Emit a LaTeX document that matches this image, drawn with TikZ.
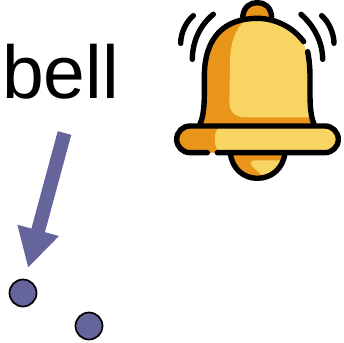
\documentclass[tikz,border=0pt]{standalone}
\usepackage{fontspec}
\setmainfont{Liberation Sans}
\usetikzlibrary{arrows.meta, positioning}
\definecolor{dotblue}{HTML}{66659B}
\definecolor{bellorange}{HTML}{E8951A}
\definecolor{bellyellow}{HTML}{F8D562}
\tikzset{
  dot/.style={circle, draw=black, fill=dotblue, line width=1.7pt, minimum size=27pt, inner sep=0pt},
  pointer/.style={-{Triangle[length=39pt, width=40pt]}, line width=14pt, draw=dotblue},
  outline/.style={draw=black, line width=5.4pt, line cap=round, line join=round},
  lbl/.style={font=\fontsize{75}{75}\selectfont, inner sep=0pt, anchor=base west},
}
\begin{document}
\begin{tikzpicture}[x=1pt, y=-1pt]
  \useasboundingbox (0,0) rectangle (344,342);
  \node[lbl] (word) at (2,98) {bell};
  \coordinate (tail) at (64.5,133);
  \coordinate (tip) at (28,268);
  \draw[pointer] (tail) -- (tip);
  \node[dot] (dota) at (23,293) {};
  \node[dot] (dotb) at (89,326) {};
  % bell, in zoomed coordinates
  \begin{scope}[shift={(170,0)}, x=0.3333pt, y=-0.3333pt]
    \fill[bellorange] (218,50) .. controls (222,20) and (240,8) .. (262,8) .. controls (284,8) and (302,20) .. (305,50) -- cycle;
    \draw[outline] (218,50) .. controls (222,20) and (240,8) .. (262,8) .. controls (284,8) and (302,20) .. (305,50);
    \fill[bellorange] (90,372) .. controls (105,340) and (103,290) .. (103,230) .. controls (103,110) and (165,55) .. (262,55) .. controls (355,55) and (420,110) .. (420,230) .. controls (420,290) and (418,340) .. (432,372) -- cycle;
    \fill[bellyellow] (225,60) .. controls (195,90) and (180,130) .. (180,190) -- (178,305) .. controls (178,335) and (195,352) .. (225,352) -- (424,352) .. controls (418,320) and (420,280) .. (420,230) .. controls (420,110) and (355,55) .. (262,55) -- cycle;
    \draw[outline] (90,372) .. controls (105,340) and (103,290) .. (103,230) .. controls (103,110) and (165,55) .. (262,55) .. controls (320,55) and (372,85) .. (401,125);
    \draw[outline] (413,155) .. controls (418,180) and (420,205) .. (420,230) .. controls (420,290) and (418,340) .. (432,372);
    % clapper
    \fill[bellorange] (181,458) .. controls (185,505) and (220,535) .. (262,535) .. controls (305,535) and (340,505) .. (345,458) -- cycle;
    \fill[bellyellow] (255,481) -- (333,481) .. controls (322,505) and (300,525) .. (275,525) .. controls (262,515) and (242,495) .. (242,490) .. controls (242,484) and (248,481) .. (255,481) -- cycle;
    \draw[outline] (181,458) .. controls (185,505) and (220,535) .. (262,535) .. controls (305,535) and (340,505) .. (345,458);
    % rim
    \fill[bellyellow] (60,458) .. controls (38,458) and (20,440) .. (20,418) .. controls (20,396) and (38,378) .. (60,378) -- (465,378) .. controls (487,378) and (505,396) .. (505,418) .. controls (505,440) and (487,458) .. (465,458) -- cycle;
    \fill[bellorange] (60,378) .. controls (38,378) and (20,396) .. (20,418) .. controls (20,440) and (38,458) .. (60,458) -- (158,458) .. controls (142,458) and (134,440) .. (134,418) .. controls (134,396) and (142,378) .. (158,378) -- cycle;
    \draw[outline] (112,458) -- (60,458) .. controls (38,458) and (20,440) .. (20,418) .. controls (20,396) and (38,378) .. (60,378) -- (465,378) .. controls (487,378) and (505,396) .. (505,418) .. controls (505,440) and (487,458) .. (465,458) -- (142,458);
    % sound waves
    \draw[outline] (32,130) .. controls (32,100) and (48,65) .. (70,47);
    \draw[outline] (67,178) .. controls (67,125) and (90,75) .. (130,43);
    \draw[outline] (393,43) .. controls (430,75) and (458,125) .. (458,178);
    \draw[outline] (455,47) .. controls (476,65) and (492,100) .. (492,130);
  \end{scope}
\end{tikzpicture}
\end{document}
